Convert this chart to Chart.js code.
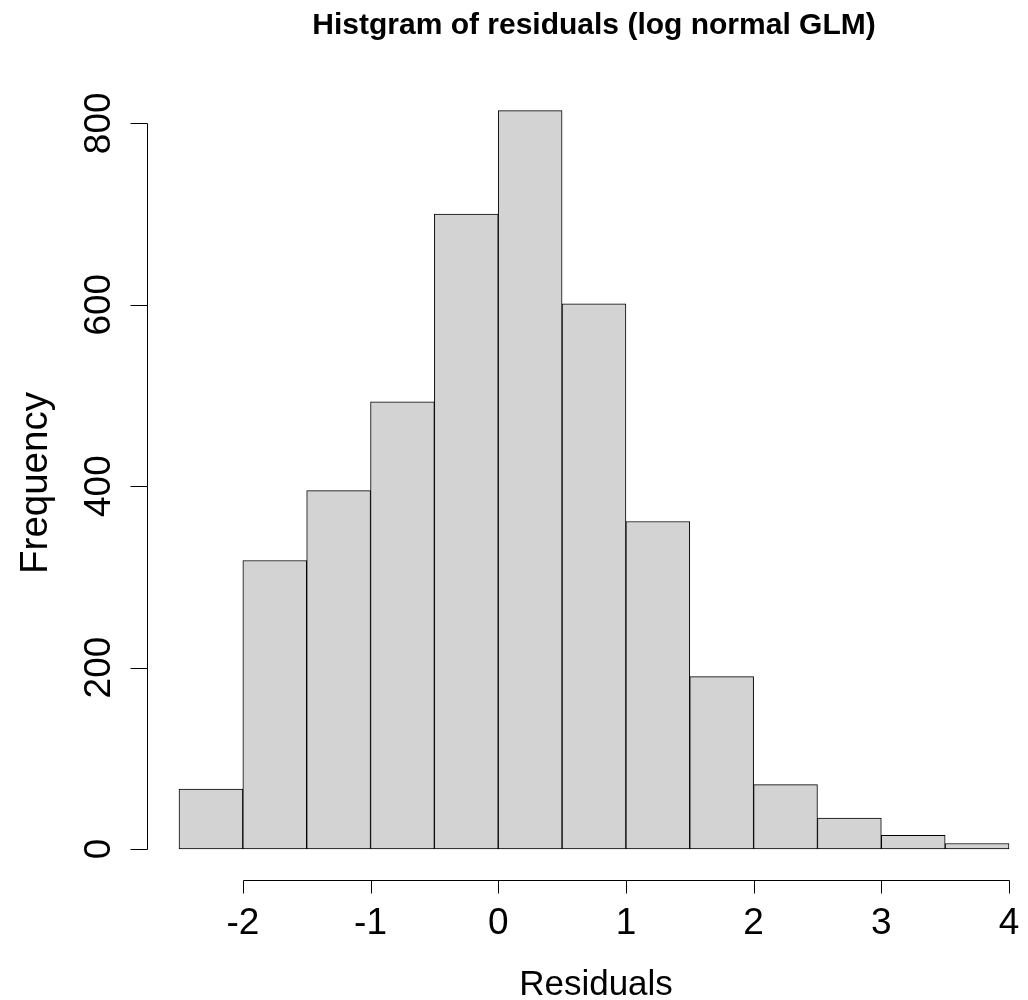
<!DOCTYPE html>
<html>
<head>
<meta charset="utf-8">
<title>Histgram of residuals (log normal GLM)</title>
<script src="https://cdn.jsdelivr.net/npm/chart.js@4/dist/chart.umd.min.js"></script>
<style>
  html, body { margin: 0; padding: 0; background: #ffffff; }
  canvas { display: block; }
</style>
</head>
<body>
<canvas id="hist" width="1028" height="1000"></canvas>
<script>
// Histogram bins (left edges, width 0.5) and their counts
const binStarts = [-2.5, -2.0, -1.5, -1.0, -0.5, 0.0, 0.5, 1.0, 1.5, 2.0, 2.5, 3.0, 3.5];
const binWidth = 0.5;
const counts = [66, 318, 395, 493, 700, 814, 601, 361, 190, 71, 34, 15, 6];

// Axis tick values
const xTicks = [-2, -1, 0, 1, 2, 3, 4];
const yTicks = [0, 200, 400, 600, 800];

const titleText = 'Histgram of residuals (log normal GLM)';
const xTitle = 'Residuals';
const yTitle = 'Frequency';

const FONT = '"Liberation Sans", Arial, Helvetica, sans-serif';

const points = binStarts.map((s, i) => ({ x: s + binWidth / 2, y: counts[i] }));

// Draws base-graphics style axes, ticks and titles from the chart scales
const baseAxes = {
  id: 'baseAxes',
  afterDraw(chart) {
    const ctx = chart.ctx;
    const xs = chart.scales.x;
    const ys = chart.scales.y;
    const area = chart.chartArea;
    ctx.save();
    ctx.strokeStyle = '#000000';
    ctx.fillStyle = '#000000';
    ctx.lineWidth = 1;

    // y axis
    const yAxisX = Math.round(area.left) + 0.5;
    const yVals = ys.ticks.map(t => t.value);
    ctx.beginPath();
    ctx.moveTo(yAxisX, Math.round(ys.getPixelForValue(yVals[0])) + 0.5);
    ctx.lineTo(yAxisX, Math.round(ys.getPixelForValue(yVals[yVals.length - 1])) + 0.5);
    yVals.forEach(v => {
      const py = Math.round(ys.getPixelForValue(v)) + 0.5;
      ctx.moveTo(yAxisX, py);
      ctx.lineTo(yAxisX - 17, py);
    });
    ctx.stroke();
    ctx.font = '37px ' + FONT;
    ctx.textAlign = 'center';
    ctx.textBaseline = 'alphabetic';
    yVals.forEach(v => {
      const py = ys.getPixelForValue(v);
      ctx.save();
      ctx.translate(110, py);
      ctx.rotate(-Math.PI / 2);
      ctx.fillText(String(v), 0, 0);
      ctx.restore();
    });

    // x axis
    const xAxisY = Math.round(area.bottom) + 0.5;
    const xVals = xs.ticks.map(t => t.value);
    ctx.beginPath();
    ctx.moveTo(Math.round(xs.getPixelForValue(xVals[0])) + 0.5, xAxisY);
    ctx.lineTo(Math.round(xs.getPixelForValue(xVals[xVals.length - 1])) + 0.5, xAxisY);
    xVals.forEach(v => {
      const px = Math.round(xs.getPixelForValue(v)) + 0.5;
      ctx.moveTo(px, xAxisY);
      ctx.lineTo(px, xAxisY + 13);
    });
    ctx.stroke();
    xVals.forEach(v => {
      ctx.fillText(String(v), xs.getPixelForValue(v), 933.5);
    });

    // axis titles
    ctx.font = '35px ' + FONT;
    ctx.fillText(xTitle, 596, 995);
    ctx.font = '38.5px ' + FONT;
    ctx.save();
    ctx.translate(47, 483);
    ctx.rotate(-Math.PI / 2);
    ctx.fillText(yTitle, 0, 0);
    ctx.restore();

    // main title
    ctx.font = 'bold 30px ' + FONT;
    ctx.fillText(titleText, 594, 34);
    ctx.restore();
  }
};

new Chart(document.getElementById('hist'), {
  type: 'bar',
  data: {
    datasets: [{
      data: points,
      backgroundColor: '#d3d3d3',
      borderColor: '#000000',
      borderWidth: 1,
      borderSkipped: false,
      barPercentage: 1.0,
      categoryPercentage: 1.0
    }]
  },
  options: {
    responsive: false,
    animation: false,
    devicePixelRatio: 1,
    layout: { padding: { left: 147, top: 80, right: 0, bottom: 120 } },
    plugins: {
      legend: { display: false },
      tooltip: { enabled: false },
      title: { display: false }
    },
    scales: {
      x: {
        type: 'linear',
        display: false,
        offset: false,
        grid: { offset: false },
        min: -2.7506,
        max: 4.1488,
        afterBuildTicks: scale => { scale.ticks = xTicks.map(v => ({ value: v })); }
      },
      y: {
        type: 'linear',
        display: false,
        min: -34.2,
        max: 847.7,
        afterBuildTicks: scale => { scale.ticks = yTicks.map(v => ({ value: v })); }
      }
    }
  },
  plugins: [baseAxes]
});
</script>
</body>
</html>
